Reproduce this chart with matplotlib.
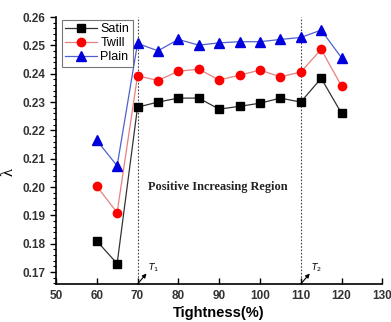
import matplotlib
matplotlib.use("Agg")
import matplotlib.pyplot as plt
from matplotlib.ticker import MultipleLocator

tightness = [60, 65, 70, 75, 80, 85, 90, 95, 100, 105, 110, 115, 120]
satin = [0.181, 0.173, 0.2282, 0.2300, 0.2314, 0.2314, 0.2275, 0.2285, 0.2296, 0.2314, 0.2300, 0.2384, 0.2260]
twill = [0.2003, 0.1910, 0.2393, 0.2376, 0.2409, 0.2416, 0.2378, 0.2395, 0.2413, 0.2389, 0.2406, 0.2486, 0.2356]
plain = [0.2165, 0.2075, 0.2507, 0.2481, 0.2521, 0.2501, 0.2509, 0.2513, 0.2513, 0.2521, 0.2528, 0.2554, 0.2456]
x_ticks = [50, 60, 70, 80, 90, 100, 110, 120, 130]
y_ticks = [0.17, 0.18, 0.19, 0.20, 0.21, 0.22, 0.23, 0.24, 0.25, 0.26]
thresholds = [70, 110]
threshold_labels = ["$T_1$", "$T_2$"]

plt.rcParams["font.family"] = ["Liberation Sans", "DejaVu Sans"]

fig = plt.figure(figsize=(3.91, 3.22), dpi=100)
ax = fig.add_axes([0.143, 0.118, 0.835, 0.829])

ax.plot(tightness, satin, color="#333333", lw=0.9, marker="s", ms=5.5,
        mfc="black", mec="black", label="Satin")
ax.plot(tightness, twill, color="#e68080", lw=0.9, marker="o", ms=6,
        mfc="red", mec="red", label="Twill")
ax.plot(tightness, plain, color="#5060cc", lw=0.9, marker="^", ms=6.5,
        mfc="#0000dd", mec="#0000dd", label="Plain")

ymin, ymax = 0.1658, 0.26
for t in thresholds:
    ax.axvline(t, color="#444444", lw=0.8, ls=(0, (1.5, 1.5)), zorder=0)

for t, lab in zip(thresholds, threshold_labels):
    ax.annotate("", xy=(t + 2.2, 0.1695), xytext=(t, ymin),
                arrowprops=dict(arrowstyle="-|>", color="black", lw=0.8,
                                mutation_scale=6, shrinkA=0, shrinkB=0))
    ax.text(t + 2.5, 0.1705, lab, fontsize=6.5, family="Liberation Serif",
            style="italic", fontweight="bold")

ax.text(72.6, 0.2002, "Positive Increasing Region", fontsize=8.8,
        family="Liberation Serif", fontweight="bold", va="center",
        color="#222222")

ax.set_xlim(50, 130)
ax.set_ylim(ymin, ymax)
ax.set_xticks(x_ticks)
ax.set_yticks(y_ticks)
ax.set_yticklabels([f"{v:.2f}" for v in y_ticks])
ax.yaxis.set_minor_locator(MultipleLocator(0.002))

for s in ["top", "right"]:
    ax.spines[s].set_visible(False)
for s in ["left", "bottom"]:
    ax.spines[s].set_linewidth(1.2)

ax.tick_params(axis="y", which="major", direction="out", length=4, width=1,
               labelsize=8.5)
ax.tick_params(axis="y", which="minor", direction="out", length=2.5, width=0.8)
ax.tick_params(axis="x", which="major", direction="in", length=4, width=1,
               labelsize=8.5, pad=4)
for lab in ax.get_xticklabels() + ax.get_yticklabels():
    lab.set_fontweight("bold")
    lab.set_color("#333333")

ax.set_xlabel("Tightness(%)", fontsize=10.5, fontweight="bold", labelpad=3)
ax.set_ylabel("λ", fontsize=12, family="Liberation Serif", labelpad=1)
ax.yaxis.set_label_coords(-0.12, 0.42)

leg = ax.legend(loc="upper left", bbox_to_anchor=(0.01, 1.0), fontsize=9,
                frameon=True, fancybox=False, edgecolor="#555555",
                handlelength=2.5, borderpad=0.3, labelspacing=0.15,
                handletextpad=0.3, borderaxespad=0.2)
leg.get_frame().set_linewidth(0.8)

fig.savefig("out.png", dpi=100)
